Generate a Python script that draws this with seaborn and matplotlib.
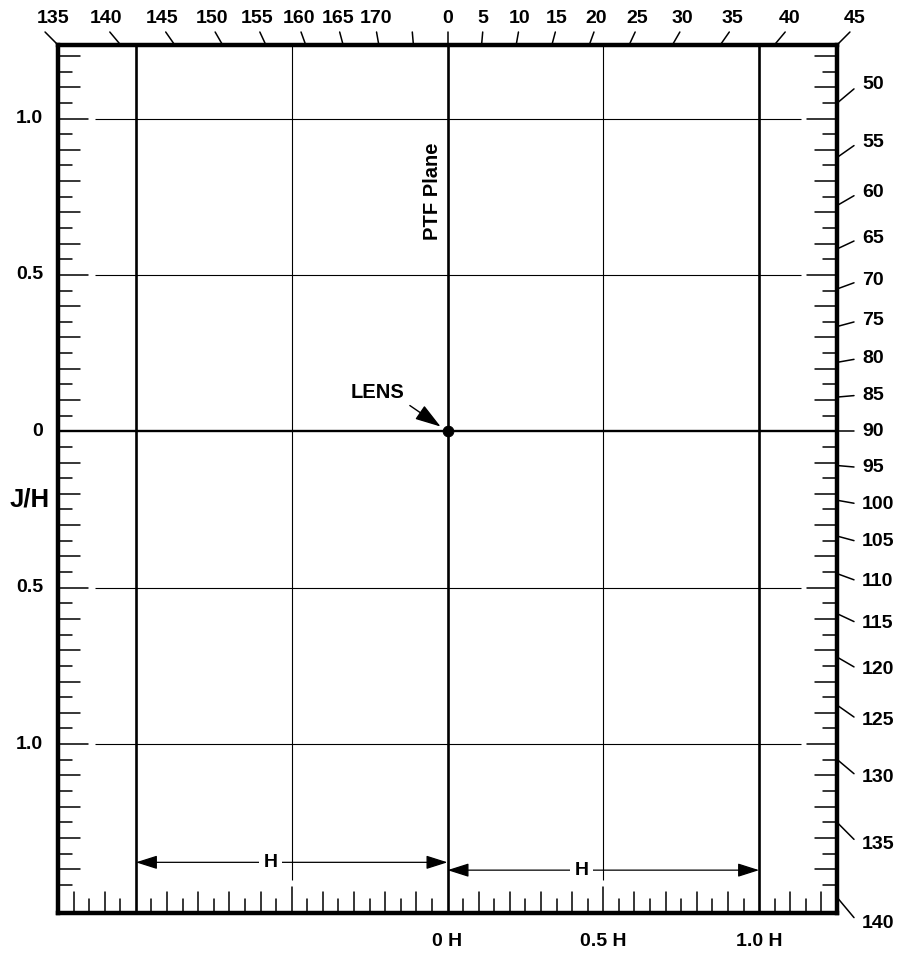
import numpy as np
import matplotlib.pyplot as plt
import seaborn as sns

# angle scale printed round the frame (degrees)
top_left_angles = [135, 140, 145, 150, 155, 160, 165, 170, 175]
top_left_labels = ["135", "140", "145", "150", "155", "160", "165", "170", ""]
top_right_angles = [0, 5, 10, 15, 20, 25, 30, 35, 40, 45]
right_angles = [50, 55, 60, 65, 70, 75, 80, 85, 90, 95, 100, 105, 110, 115,
                120, 125, 130, 135, 140]

# J/H scale (left) and H scale (bottom)
jh_ticks = [1.0, 0.5, 0.0, -0.5, -1.0]
jh_labels = ["1.0", "0.5", "0", "0.5", "1.0"]
h_ticks = [0.0, 0.5, 1.0]
h_labels = ["0 H", "0.5 H", "1.0 H"]

heavy_cols = [-1.0, 0.0, 1.0]
light_cols = [-0.5, 0.5]
grid_rows = [1.0, 0.5, -0.5, -1.0]

lens_x = [0.0]
lens_y = [0.0]
lens_dist = 1.25

# dimension arrows "H"
h_spans = [(-1.0, 0.0), (0.0, 1.0)]
h_rows = [-1.378, -1.403]
h_text_x = [-0.568, 0.43]

sns.set_theme(style="white")
plt.rcParams['font.family'] = ['Liberation Sans', 'DejaVu Sans']
plt.rcParams['font.weight'] = 'bold'
plt.rcParams['text.color'] = 'black'

x0, x1 = -1.25, 1.25
y0, y1 = -1.54, 1.235
W, Hgt = 779, 868
FS = 14


def px(p):
    return p * (x1 - x0) / W


def py(p):
    return p * (y1 - y0) / Hgt


fig = plt.figure(figsize=(9.02, 9.55), dpi=100)
ax = fig.add_axes([58 / 902, 42 / 955, W / 902, Hgt / 955])
ax.set_xlim(x0, x1)
ax.set_ylim(y0, y1)
ax.set_xticks([])
ax.set_yticks([])
for s in ax.spines.values():
    s.set_linewidth(3.2)
    s.set_color("black")
    s.set_zorder(6)

# main lines
for x in heavy_cols:
    ax.axvline(x, color="black", lw=1.9, zorder=2)
ax.axhline(0, color="black", lw=1.7, zorder=2)
ax.vlines(light_cols, y0 + py(33), y1, color="black", lw=0.8)
ax.hlines(grid_rows, x0 + px(37), x1 - px(36), color="black", lw=0.8)

# inner ticks on left and right edges
for k in range(-29, 25):
    y = round(k * 0.05, 2)
    if y == 0:
        continue
    if y in grid_rows:
        L = 30
    elif k % 2 == 0:
        L = 22
    else:
        L = 14.5
    ax.plot([x0, x0 + px(L)], [y, y], color="black", lw=1.1)
    ax.plot([x1, x1 - px(L)], [y, y], color="black", lw=1.1)

# inner ticks on bottom edge
for k in range(-24, 25):
    x = round(k * 0.05, 2)
    if x in heavy_cols:
        continue
    if x in light_cols:
        L = 26
    elif k % 2 == 0:
        L = 21
    else:
        L = 14
    ax.plot([x, x], [y0, y0 + py(L)], color="black", lw=1.1)

# angle ticks along the top
top_angles = [a - 180 for a in top_left_angles] + top_right_angles
top_labels = top_left_labels + [str(a) for a in top_right_angles]
for phi, lab in zip(top_angles, top_labels):
    t = np.tan(np.radians(phi))
    bx = lens_dist * t
    ex = bx + py(13) * t
    ax.plot([bx, ex], [y1, y1 + py(13)], color="black", lw=1.1, clip_on=False)
    if lab:
        lx = max(ex + py(5) * t, x0 - px(5))
        ax.text(lx, y1 + py(27), lab, ha="center", va="center", fontsize=FS)

# angle ticks along the right edge
for a in right_angles:
    r = np.radians(a)
    cot = np.cos(r) / np.sin(r)
    by = lens_dist * cot
    ey = by + px(17) * cot
    ax.plot([x1, x1 + px(17)], [by, ey], color="black", lw=1.1, clip_on=False)
    ax.text(x1 + px(25), ey + py(5) * cot, str(a), ha="left", va="center",
            fontsize=FS)

# scale labels
for y, lab in zip(jh_ticks, jh_labels):
    ax.text(x0 - px(15), y, lab, ha="right", va="center", fontsize=FS)
ax.text(x0 - px(8), -0.217, "J/H", ha="right", va="center", fontsize=18.5)
for x, lab in zip(h_ticks, h_labels):
    ax.text(x, y0 - py(28), lab, ha="center", va="center", fontsize=FS)

ax.text(-px(15), 0.767, "PTF Plane", rotation=90, ha="center", va="center",
        fontsize=14.5)

# lens point
sns.scatterplot(x=lens_x, y=lens_y, s=60, color="black", edgecolor="black",
                zorder=5, ax=ax, legend=False)
head = "-|>,head_length=1.1,head_width=0.35"
ax.annotate("LENS", xy=(0, 0), xytext=(-0.225, 0.125), ha="center",
            va="center", fontsize=14.5,
            arrowprops=dict(arrowstyle=head, color="black", lw=1,
                            shrinkA=2, shrinkB=6, relpos=(1, 0)))

# H dimension arrows
for (a, b), row, hx in zip(h_spans, h_rows, h_text_x):
    for end in (a, b):
        ax.annotate("", xy=(end, row), xytext=(hx, row),
                    arrowprops=dict(arrowstyle=head, color="black", lw=0.9,
                                    shrinkA=0, shrinkB=0))
    ax.text(hx, row, "H", ha="center", va="center", fontsize=FS, zorder=4,
            bbox=dict(boxstyle="square,pad=0.25", fc="white", ec="none"))

fig.savefig("out.png", dpi=100)
